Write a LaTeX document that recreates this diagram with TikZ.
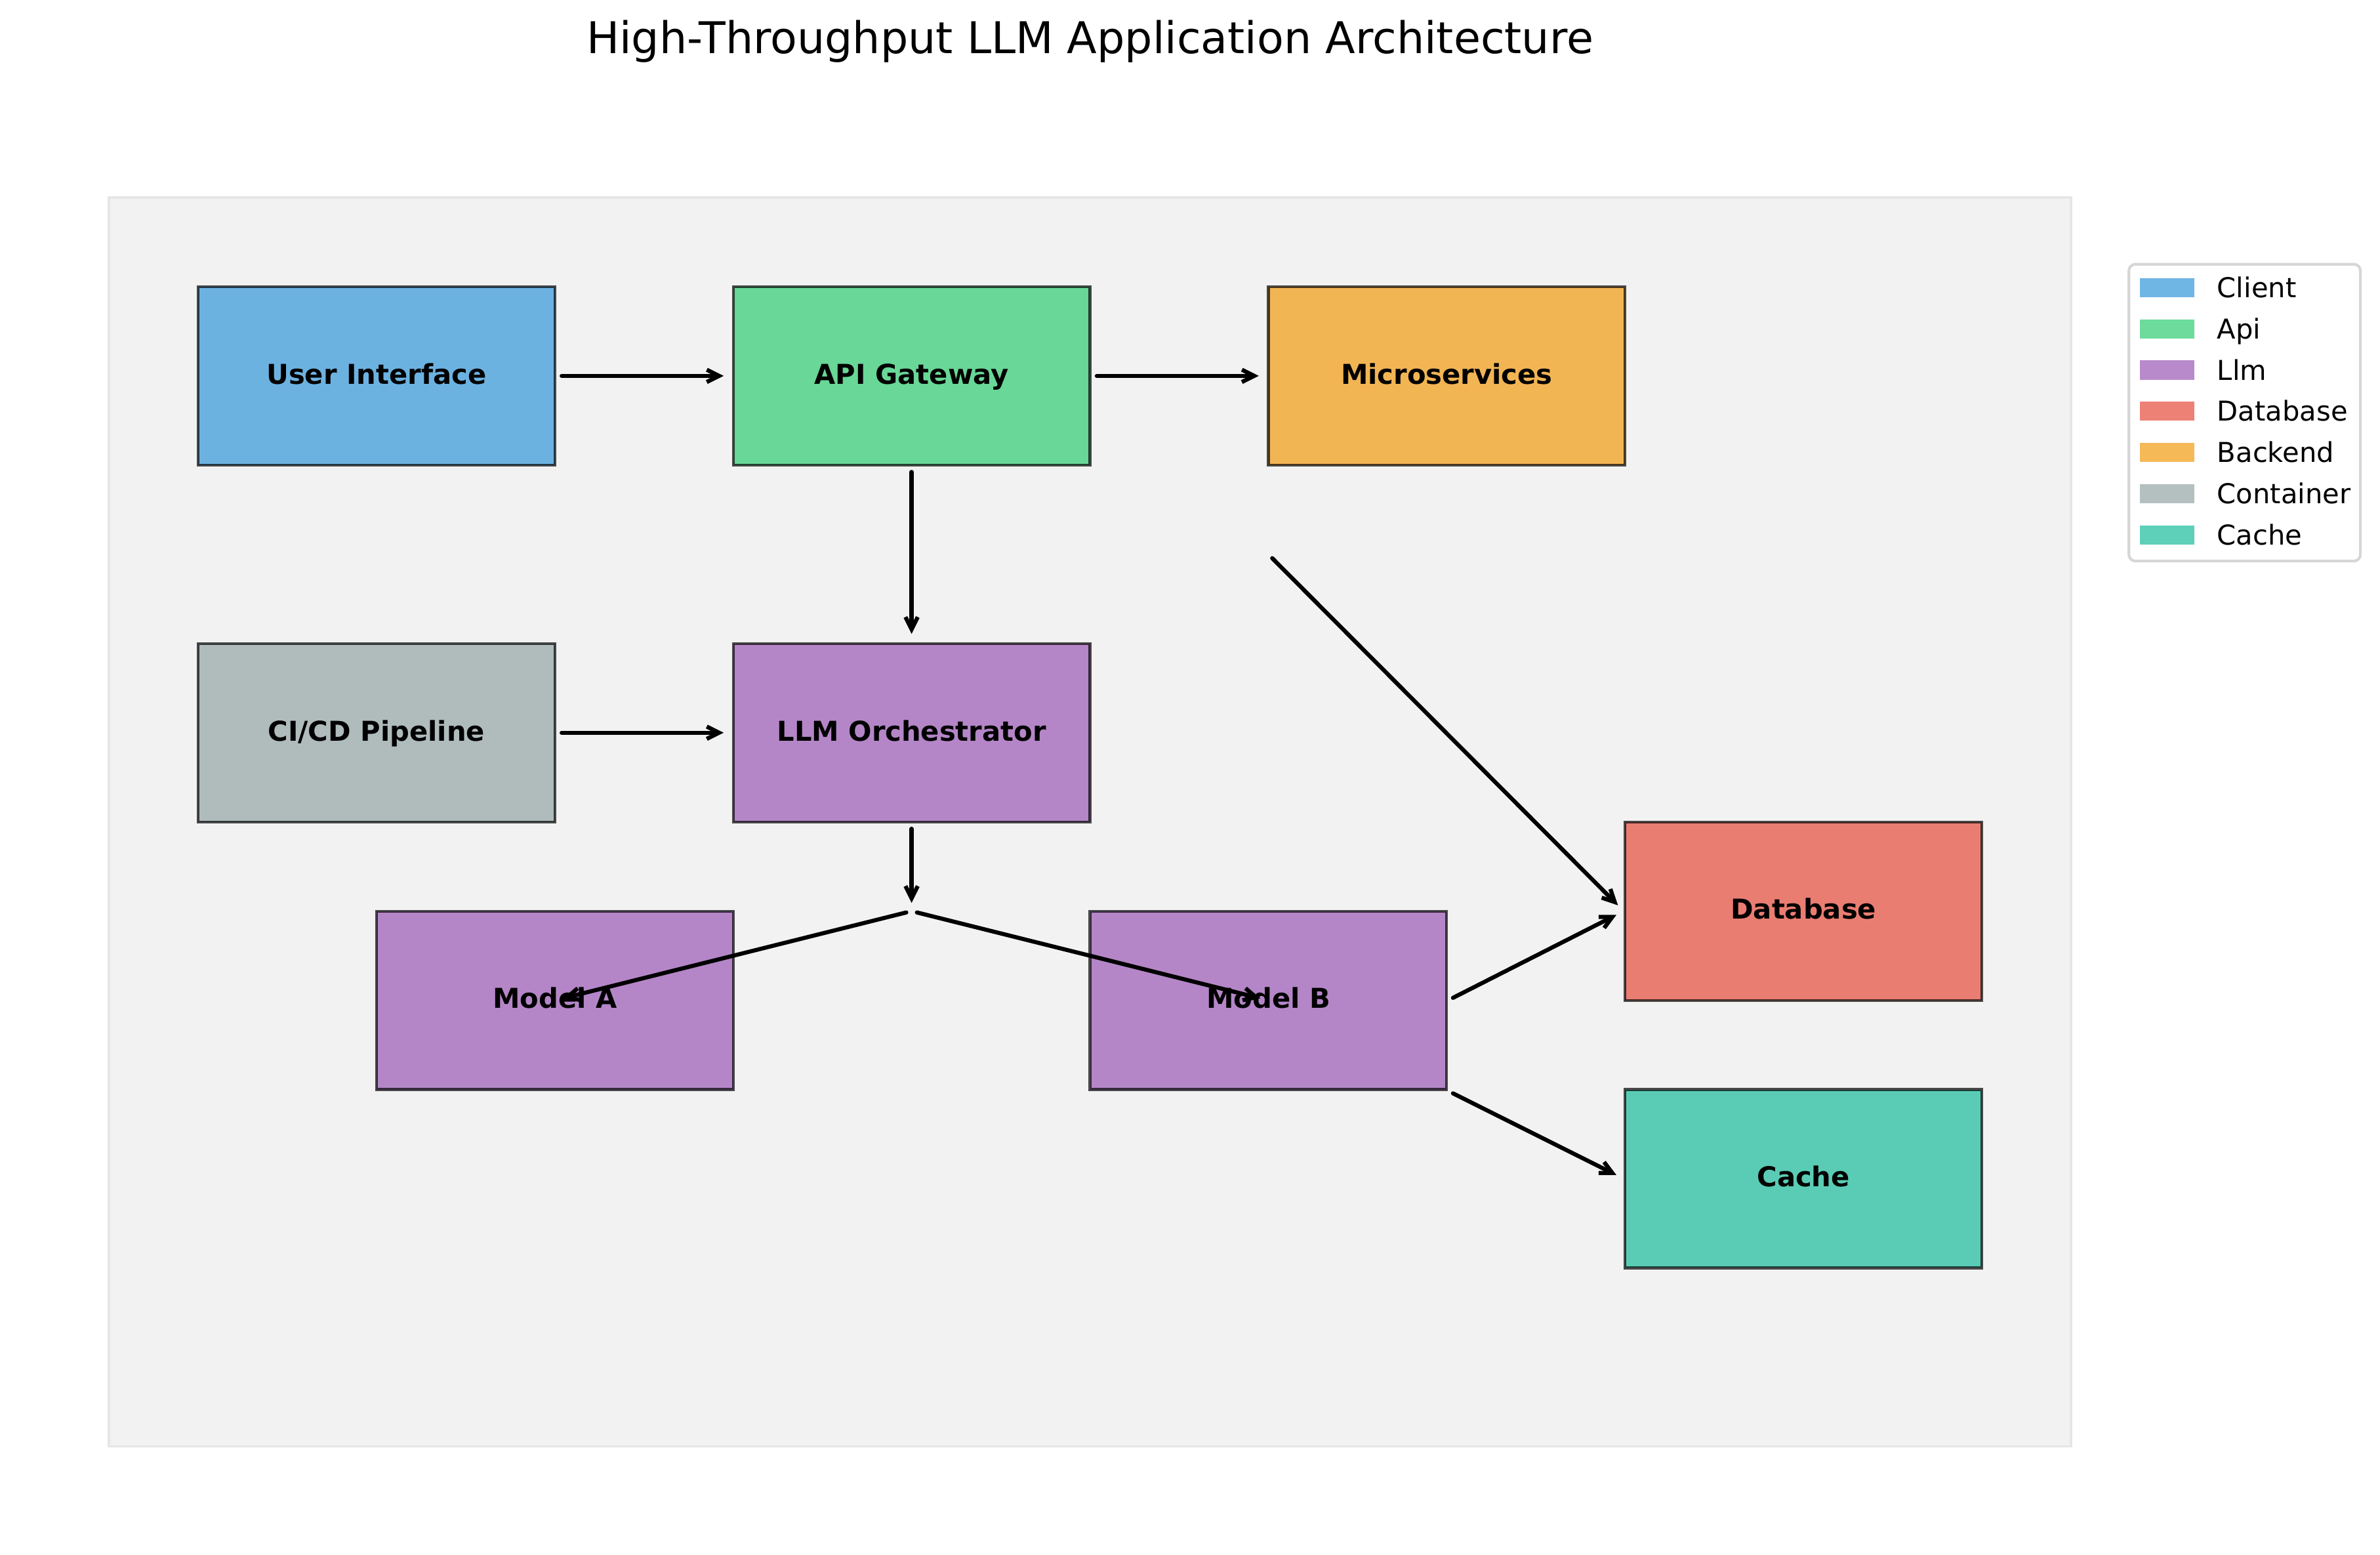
\documentclass[tikz,border=0pt]{standalone}
\usepackage{fontspec}
\setmainfont{DejaVu Sans}
\usepackage{xcolor}
\usetikzlibrary{arrows.meta,positioning}

\definecolor{clientcol}{HTML}{3498DB}
\definecolor{apicol}{HTML}{2ECC71}
\definecolor{llmcol}{HTML}{9B59B6}
\definecolor{dbcol}{HTML}{E74C3C}
\definecolor{backendcol}{HTML}{F39C12}
\definecolor{containercol}{HTML}{95A5A6}
\definecolor{cachecol}{HTML}{1ABC9C}
\definecolor{bgcol}{HTML}{F2F2F2}
\definecolor{bgedge}{HTML}{E6E6E6}

\begin{document}
\begin{tikzpicture}[x=65.256pt, y=65.256pt,
    box/.style={rectangle, draw=black, draw opacity=0.7, fill opacity=0.7, text opacity=1,
        line width=1pt, minimum width=130.51pt, minimum height=65.256pt, inner sep=0pt,
        text height=7.29pt, text depth=1.4pt, font=\bfseries},
    flow/.style={-{Straight Barb[length=4.5pt,width=4.5pt]}, line width=1.5pt, line cap=round,
        line join=round, shorten <=2pt, shorten >=3pt},
    swatch/.style={rectangle, minimum width=20pt, minimum height=7pt, inner sep=0pt, fill opacity=0.7},
    legtext/.style={inner sep=0pt, text height=7.29pt, text depth=0pt}]
            \useasboundingbox (-0.6105,-0.609) rectangle (12.732,8.107);

            \node[font=\fontsize{16}{19}\selectfont, anchor=base, inner sep=0pt] (title) at (5.5,7.807) {High-Throughput LLM Application Architecture};

            \draw[fill=bgcol, draw=bgedge, line width=0.8pt] (0,0) rectangle (11,7);

            \node[box, fill=clientcol] (ui) at (1.5,6) {User Interface};
            \node[box, fill=apicol] (api) at (4.5,6) {API Gateway};
            \node[box, fill=backendcol] (micro) at (7.5,6) {Microservices};
            \node[box, fill=containercol] (cicd) at (1.5,4) {CI/CD Pipeline};
            \node[box, fill=llmcol] (llm) at (4.5,4) {LLM Orchestrator};
            \node[box, fill=llmcol] (ma) at (2.5,2.5) {Model A};
            \node[box, fill=llmcol] (mb) at (6.5,2.5) {Model B};
            \node[box, fill=dbcol] (db) at (9.5,3) {Database};
            \node[box, fill=cachecol] (cache) at (9.5,1.5) {Cache};
            \coordinate (split) at (4.5,3);
            \coordinate (dbin) at (6.5,5);

            \draw[flow] (ui.east) -- (api.west);
            \draw[flow] (api.east) -- (micro.west);
            \draw[flow] (api.south) -- (llm.north);
            \draw[flow] (dbin) -- (db.west);
            \draw[flow] (cicd.east) -- (llm.west);
            \draw[flow] (llm.south) -- (split);
            \draw[flow] (split) -- (ma.center);
            \draw[flow] (split) -- (mb.center);
            \draw[flow] (mb.east) -- (db.west);
            \draw[flow] (mb.south east) -- (cache.west);

            % legend
            \draw[draw=black!16, line width=1pt, rounded corners=2.4pt, fill=white] (11.324,4.962) rectangle (12.622,6.626);
            \node[swatch, fill=clientcol] (lclient) at (11.5375,6.495) {};
            \node[swatch, fill=apicol] (lapi) at (11.5375,6.264) {};
            \node[swatch, fill=llmcol] (lllm) at (11.5375,6.033) {};
            \node[swatch, fill=dbcol] (ldb) at (11.5375,5.802) {};
            \node[swatch, fill=backendcol] (lbackend) at (11.5375,5.571) {};
            \node[swatch, fill=containercol] (lcontainer) at (11.5375,5.340) {};
            \node[swatch, fill=cachecol] (lcache) at (11.5375,5.109) {};
            \node[legtext, right=8pt of lclient] (tclient) {Client};
            \node[legtext, right=8pt of lapi] (tapi) {Api};
            \node[legtext, right=8pt of lllm] (tllm) {Llm};
            \node[legtext, right=8pt of ldb] (tdb) {Database};
            \node[legtext, right=8pt of lbackend] (tbackend) {Backend};
            \node[legtext, right=8pt of lcontainer] (tcontainer) {Container};
            \node[legtext, right=8pt of lcache] (tcache) {Cache};
        \end{tikzpicture}
\end{document}
